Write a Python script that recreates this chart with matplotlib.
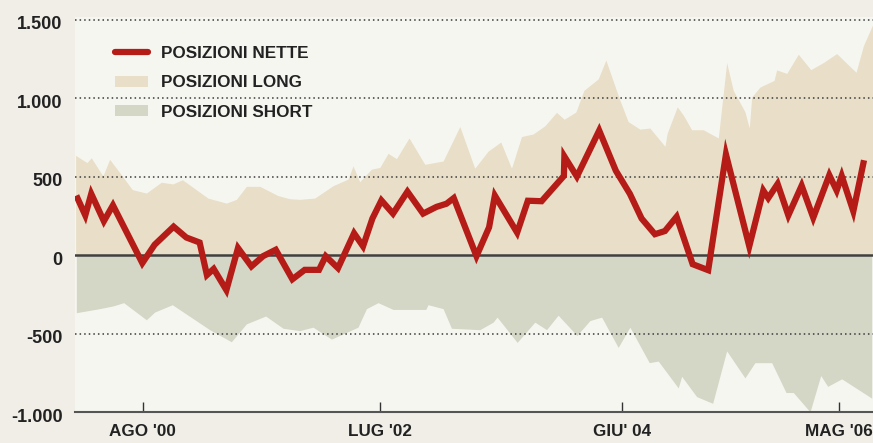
import matplotlib
matplotlib.use("Agg")
import matplotlib.pyplot as plt
import matplotlib.transforms as mtransforms
from matplotlib.patches import Patch
from matplotlib.lines import Line2D

# months counted from Jan 2000 (0 = gen '00)
nette_x = [0.43, 1.32, 1.91, 3.16, 4.06, 6.97, 8.19, 10.07, 11.33, 12.65, 13.37, 14.04,
           15.30, 16.45, 17.78, 18.93, 20.19, 21.84, 23.06, 24.48, 25.14, 26.36, 27.95,
           28.84, 29.77, 30.66, 31.81, 33.24, 34.79, 36.12, 37.11, 37.83, 40.08, 41.33,
           41.90, 44.11, 45.17, 46.53, 48.74, 48.79, 50.03, 52.24, 53.89, 55.28, 56.44,
           57.76, 58.75, 59.91, 61.50, 63.04, 64.80, 67.11, 68.50, 68.99, 69.92, 70.98,
           72.30, 73.45, 75.04, 75.77, 76.27, 77.42, 78.48]
nette = [380, 254, 391, 217, 318, -50, 67, 182, 113, 81, -126, -87,
         -222, 46, -71, -6, 35, -153, -93, -93, -6, -82, 140,
         57, 234, 349, 265, 405, 265, 308, 328, 364, -6, 178,
         380, 144, 347, 344, 505, 629, 501, 794, 538, 391, 234,
         134, 154, 245, -57, -95, 642, 57, 412, 364, 454, 254,
         443, 239, 510, 412, 505, 280, 605]

long_x = [0.36, 1.48, 1.91, 3.06, 3.73, 4.72, 5.98, 7.37, 8.85, 10.00, 10.94, 13.47,
          15.30, 16.29, 17.28, 18.60, 20.41, 21.57, 22.56, 24.05, 25.87, 27.35, 27.85,
          28.51, 29.67, 30.50, 31.32, 32.15, 33.40, 34.96, 36.77, 38.43, 39.91, 41.23,
          42.49, 43.55, 44.54, 45.69, 46.85, 48.01, 48.77, 49.93, 50.72, 52.14, 52.90,
          54.29, 55.11, 56.27, 57.26, 58.75, 58.98, 59.97, 60.57, 61.40, 62.55, 64.04,
          64.87, 65.52, 66.68, 67.11, 67.35, 68.17, 69.56, 69.82, 70.82, 71.97, 73.20,
          74.45, 75.77, 77.69, 78.41, 79.34]
long_pos = [636, 590, 621, 505, 611, 527, 418, 396, 465, 454, 481, 364,
            332, 356, 439, 439, 380, 360, 356, 364, 443, 485, 569,
            468, 548, 559, 649, 615, 747, 579, 600, 820, 554, 663,
            721, 554, 756, 772, 824, 910, 866, 912, 1050, 1123, 1243,
            987, 851, 803, 810, 694, 778, 945, 893, 799, 799, 747,
            1227, 1050, 914, 810, 1008, 1071, 1113, 1180, 1158, 1280, 1182,
            1227, 1284, 1165, 1333, 1469]

short_x = [0.43, 2.74, 4.06, 5.12, 7.37, 8.19, 9.94, 13.64, 15.79, 17.28, 19.19, 20.91,
           22.56, 23.88, 25.71, 28.34, 29.18, 30.33, 31.81, 35.06, 35.28, 36.77, 37.60,
           40.41, 41.73, 42.12, 44.11, 45.86, 47.02, 48.17, 50.03, 51.32, 52.48, 54.12,
           55.28, 57.20, 58.09, 60.07, 60.41, 61.89, 63.48, 64.87, 66.68, 67.67, 69.33,
           70.75, 71.47, 73.13, 74.19, 74.88, 76.27, 79.24]
short_pos = [-366, -340, -323, -302, -411, -362, -315, -474, -551, -437, -387, -465,
             -480, -458, -534, -458, -340, -302, -345, -345, -315, -340, -465,
             -474, -426, -394, -555, -426, -474, -382, -511, -416, -394, -587,
             -458, -684, -674, -845, -771, -900, -943, -609, -781, -684, -684,
             -874, -874, -997, -766, -835, -787, -910]

tick_pos = [7, 30.5, 54.5, 76]
tick_lab = ["AGO '00", "LUG '02", "GIU' 04", "MAG '06"]
y_ticks = [-1000, -500, 0, 500, 1000, 1500]
y_lab = ["-1.000", "-500", "0", "500", "1.000", "1.500"]

bg_out = "#f1eee7"
bg_in = "#f6f6f1"
c_long = "#e9dfc8"
c_short = "#d4d7c6"
c_red = "#b51b17"
c_txt = "#222222"

fig = plt.figure(figsize=(8.73, 4.43), dpi=100, facecolor=bg_out)
ax = fig.add_axes([75 / 873, (443 - 412.3) / 443, 798 / 873, 395.8 / 443])
ax.set_facecolor(bg_in)

ax.fill_between(long_x, 0, long_pos, color=c_long, lw=0, zorder=1)
ax.fill_between(short_x, short_pos, 0, color=c_short, lw=0, zorder=1)

for yv in [500, 1000, 1500, -500]:
    ax.axhline(yv, color="#3a3a3a", lw=1.1, ls=(0, (1, 2)), zorder=2)
ax.axhline(0, color="#404040", lw=1.8, zorder=2)

ax.plot(nette_x, nette, color=c_red, lw=4.5, solid_joinstyle="miter",
        solid_capstyle="butt", zorder=3)

ax.set_xlim(0.3, 79.37)
ax.set_ylim(-1000, 1520)

for s in ["left", "top", "right"]:
    ax.spines[s].set_visible(False)
ax.spines["bottom"].set_color("#555555")
ax.spines["bottom"].set_linewidth(1.5)

ax.set_xticks(tick_pos)
ax.set_xticklabels(tick_lab, fontfamily="Liberation Sans", fontweight="bold",
                   fontsize=12.3, color=c_txt)
ax.tick_params(axis="x", direction="in", length=7.5, width=1, color="#333333", pad=8.5)

ax.set_yticks(y_ticks)
ax.set_yticklabels(y_lab, fontfamily="Liberation Sans", fontweight="bold",
                   fontsize=13, color=c_txt)
ax.tick_params(axis="y", length=0, pad=9)
off = mtransforms.ScaledTranslation(0, -3 / 100, fig.dpi_scale_trans)
for lab in ax.get_yticklabels():
    lab.set_transform(lab.get_transform() + off)

handles = [Line2D([], [], color=c_red, lw=4.5, solid_capstyle="round"),
           Patch(facecolor=c_long, edgecolor="none"),
           Patch(facecolor=c_short, edgecolor="none")]
labels = ["POSIZIONI NETTE", "POSIZIONI LONG", "POSIZIONI SHORT"]
leg = ax.legend(handles, labels, loc="upper left", bbox_to_anchor=(0.05, 0.925),
                frameon=False, borderpad=0, borderaxespad=0, handlelength=1.95,
                handleheight=0.66, handletextpad=0.73, labelspacing=0.83,
                prop={"family": "Liberation Sans", "weight": "bold", "size": 12.3})
for t in leg.get_texts():
    t.set_color(c_txt)

fig.savefig("out.png", dpi=100, facecolor=bg_out)
